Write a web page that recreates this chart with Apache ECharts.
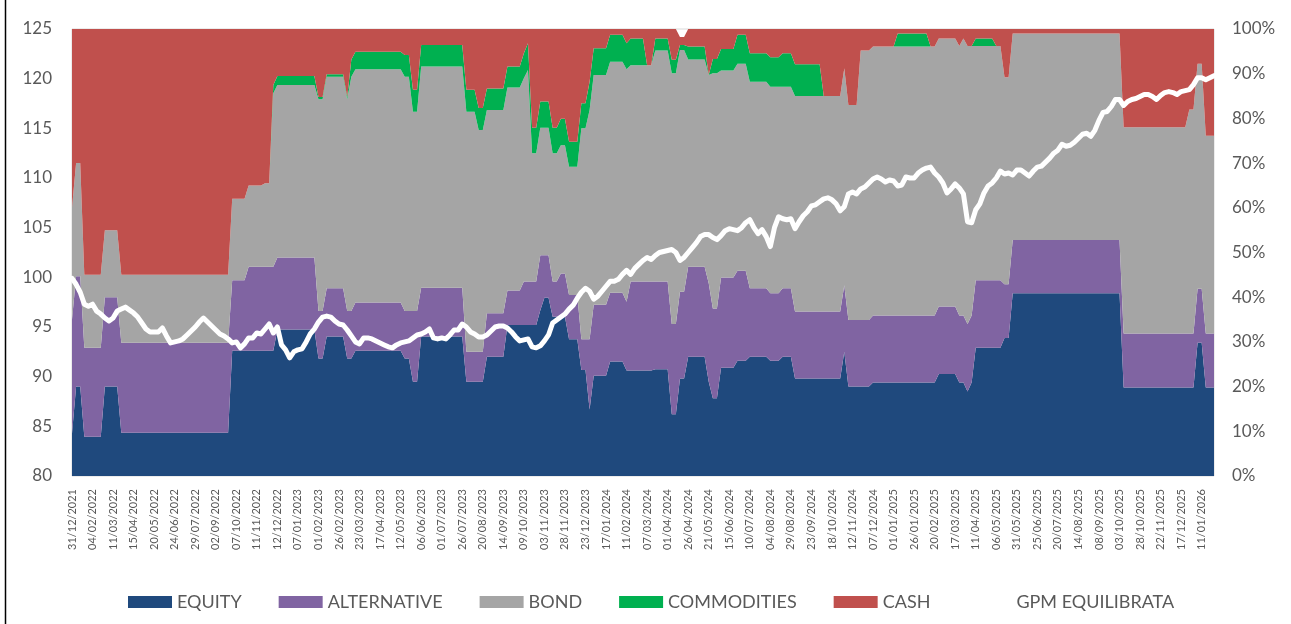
<!DOCTYPE html>
<html>
<head>
<meta charset="utf-8">
<script src="https://cdn.jsdelivr.net/npm/echarts@6/dist/echarts.min.js"></script>
<style>
  html, body { margin: 0; padding: 0; background: #fff; }
  #chart { width: 1291px; height: 624px; }
</style>
</head>
<body>
<div id="chart"></div>
<script>
// date labels shown on the x axis (one every 5 points)
const tickLabels = [
  '31/12/2021', '04/02/2022', '11/03/2022', '15/04/2022', '20/05/2022', '24/06/2022',
  '29/07/2022', '02/09/2022', '07/10/2022', '11/11/2022', '12/12/2022', '07/01/2023',
  '01/02/2023', '26/02/2023', '23/03/2023', '17/04/2023', '12/05/2023', '06/06/2023',
  '01/07/2023', '26/07/2023', '20/08/2023', '14/09/2023', '09/10/2023', '03/11/2023',
  '28/11/2023', '23/12/2023', '17/01/2024', '11/02/2024', '07/03/2024', '01/04/2024',
  '26/04/2024', '21/05/2024', '15/06/2024', '10/07/2024', '04/08/2024', '29/08/2024',
  '23/09/2024', '18/10/2024', '12/11/2024', '07/12/2024', '01/01/2025', '26/01/2025',
  '20/02/2025', '17/03/2025', '11/04/2025', '06/05/2025', '31/05/2025', '25/06/2025',
  '20/07/2025', '14/08/2025', '08/09/2025', '03/10/2025', '28/10/2025', '22/11/2025',
  '17/12/2025', '11/01/2026'
]

// GPM EQUILIBRATA (left axis), one value per point
const gpm = [
  99.9, 99.3, 98.5, 97.3, 97.1, 97.3, 96.6, 96.3, 95.9, 95.6,
  95.9, 96.6, 96.8, 97.0, 96.7, 96.4, 96.0, 95.4, 94.8, 94.5,
  94.5, 94.5, 94.9, 94.1, 93.4, 93.5, 93.6, 93.8, 94.2, 94.6,
  95.0, 95.5, 95.9, 95.5, 95.1, 94.7, 94.3, 94.1, 93.8, 93.4,
  93.5, 92.9, 93.3, 93.9, 93.9, 94.4, 94.3, 94.8, 95.3, 94.4,
  95.0, 93.2, 92.7, 91.9, 92.5, 92.7, 92.8, 93.5, 94.3, 94.8,
  95.5, 96.0, 96.1, 96.0, 95.6, 95.3, 95.2, 94.7, 94.1, 93.5,
  93.3, 93.9, 93.9, 93.8, 93.6, 93.4, 93.2, 93.0, 92.9, 93.2,
  93.4, 93.5, 93.6, 93.9, 94.2, 94.3, 94.5, 94.8, 93.9, 93.8,
  93.9, 93.8, 94.2, 94.7, 94.7, 95.3, 95.0, 94.5, 94.3, 94.0,
  94.0, 94.2, 94.6, 95.0, 95.1, 95.1, 94.9, 94.5, 94.0, 93.6,
  93.7, 93.8, 93.0, 92.9, 93.1, 93.6, 94.2, 95.4, 95.7, 96.0,
  96.3, 96.8, 97.2, 97.9, 98.5, 98.9, 98.6, 97.8, 98.1, 98.6,
  99.1, 99.6, 99.6, 99.8, 100.3, 100.7, 100.3, 100.9, 101.3, 101.7,
  102.0, 101.8, 102.2, 102.5, 102.6, 102.7, 102.8, 102.5, 101.7, 102.0,
  102.5, 103.0, 103.5, 104.1, 104.3, 104.3, 104.0, 103.8, 104.2, 104.7,
  104.9, 104.8, 104.7, 105.0, 105.5, 105.8, 105.0, 104.4, 104.8, 104.1,
  103.1, 105.0, 106.1, 105.9, 105.8, 105.9, 104.9, 105.6, 106.2, 106.6,
  107.2, 107.3, 107.6, 107.9, 108.0, 107.8, 107.4, 106.7, 107.1, 108.4,
  108.6, 108.4, 108.9, 109.1, 109.5, 109.9, 110.1, 109.9, 109.6, 109.8,
  109.7, 109.2, 109.3, 110.1, 110.0, 110.0, 110.5, 110.8, 111.0, 111.1,
  110.5, 110.1, 109.5, 108.5, 108.9, 109.4, 109.0, 108.4, 105.6, 105.5,
  106.8, 107.4, 108.5, 109.2, 109.5, 110.0, 110.7, 110.4, 110.5, 110.3,
  110.8, 110.8, 110.5, 110.2, 110.7, 111.1, 111.2, 111.6, 112.0, 112.5,
  112.8, 113.4, 113.2, 113.3, 113.6, 114.0, 114.4, 114.5, 114.2, 114.8,
  115.8, 116.6, 116.7, 117.2, 117.9, 117.9, 117.3, 117.7, 117.9, 118.0,
  118.2, 118.4, 118.4, 118.2, 117.9, 118.3, 118.6, 118.7, 118.6, 118.4,
  118.7, 118.8, 118.9, 119.4, 120.1, 120.1, 119.9, 120.1, 120.3
]

// allocations in % (right axis): [first point index, weight held from there on]
const equity = [
  [0, 9.5], [1, 20], [3, 8.8], [8, 20], [12, 9.7], [39, 28], [50, 32.8], [60, 26.3],
  [62, 31.2], [67, 26.3], [69, 28], [81, 26.3], [83, 21.1], [85, 31.2], [96, 21.1],
  [101, 26.7], [106, 33.8], [114, 37.1], [115, 39.9], [117, 35.6], [121, 30.6],
  [124, 23.7], [126, 14.9], [127, 22.4], [131, 25.6], [135, 23.6], [142, 23.9],
  [146, 13.8], [148, 21.8], [150, 26.7], [155, 21.1], [156, 17.4], [158, 24.2],
  [162, 25.8], [165, 26.7], [170, 25.8], [173, 26.7], [176, 21.8], [188, 27.8],
  [189, 20], [195, 20.9], [211, 22.8], [216, 20.9], [218, 18.9], [219, 20.9],
  [220, 28.7], [227, 30.9], [229, 40.9], [256, 19.8], [274, 29.8], [276, 19.8]
]
const alternative = [
  [0, 25.5], [1, 24.7], [3, 19.9], [8, 20], [12, 20.1], [39, 15.8], [43, 18.8],
  [50, 16.1], [60, 10.6], [62, 10.8], [67, 10.6], [69, 10.8], [81, 10.6], [83, 15.8],
  [85, 10.9], [96, 6.7], [101, 9.7], [106, 7.7], [110, 9.7], [114, 12.3], [115, 9.5],
  [117, 7.9], [119, 9.7], [121, 9.9], [124, 6.9], [126, 15.7], [127, 15.9], [131, 15.4],
  [136, 19.9], [142, 19.6], [146, 20.2], [148, 19.4], [150, 20.1], [155, 22], [156, 20.1],
  [158, 20.2], [162, 20.1], [165, 15.3], [170, 15.1], [173, 15.3], [176, 15],
  [188, 14.9], [195, 15], [211, 15.1], [216, 15], [218, 15.1], [219, 15], [220, 15.1],
  [227, 12], [229, 11.9], [256, 12.1]
]
const bond = [
  [0, 25], [1, 25.3], [3, 16.3], [8, 15], [12, 15.2], [39, 18.2], [47, 18.7], [49, 38.8],
  [50, 38.6], [60, 47.4], [62, 47.3], [67, 47.4], [68, 52.4], [69, 52.2], [81, 52.4],
  [83, 44.6], [85, 49.5], [96, 53.7], [99, 49.6], [101, 45.5], [106, 45.4], [110, 45.5],
  [111, 47.3], [112, 28.7], [114, 28.5], [117, 28.7], [124, 47.2], [126, 51.3],
  [127, 51.4], [131, 51.7], [135, 52], [136, 48.4], [142, 51.7], [146, 56.1], [148, 54.1],
  [150, 46.4], [155, 46.6], [156, 52.6], [158, 46.3], [165, 46.2], [173, 45.1],
  [176, 48.2], [188, 48.5], [189, 48.1], [192, 60.3], [195, 60.2], [211, 60], [216, 60.3],
  [217, 62], [218, 62.2], [219, 60.3], [220, 52.4], [227, 46.3], [229, 46.2], [256, 46.1],
  [272, 50.1], [274, 50.3], [276, 44.2]
]
const commodities = [
  [0, 0], [49, 1.9], [50, 2], [60, 0.5], [62, 0.6], [67, 0.5], [68, 3.9], [81, 4.9],
  [85, 4.8], [96, 4.9], [101, 4.8], [106, 4.7], [110, 5.6], [111, 6], [112, 5.7],
  [114, 5.9], [117, 5.7], [119, 5.9], [121, 5.6], [126, 6.3], [127, 6], [135, 5.8],
  [136, 6], [140, 0], [142, 2.7], [146, 3], [148, 1.1], [150, 2.9], [155, 0], [156, 3.2],
  [158, 4.8], [162, 6.5], [165, 6.4], [170, 6.6], [173, 7.5], [176, 7.1], [183, 0],
  [201, 2.9], [209, 0], [220, 1.7], [225, 0]
]
const cash = [
  [0, 40], [1, 30], [3, 55], [8, 45], [12, 55], [39, 38], [43, 35], [47, 34.5], [49, 12.5],
  [50, 10.5], [60, 15.2], [62, 10.1], [67, 15.2], [68, 6.8], [69, 5.1], [81, 5.8],
  [83, 13.6], [85, 3.6], [96, 13.6], [99, 17.7], [101, 13.3], [106, 8.4], [110, 5.4],
  [111, 3.2], [112, 22.1], [114, 16.2], [117, 22.1], [119, 20.1], [121, 25.2], [124, 16.6],
  [126, 11.8], [127, 4.3], [131, 1.3], [135, 3.2], [136, 2.1], [140, 8.1], [142, 2.1],
  [146, 6.9], [148, 1.8], [150, 3.9], [155, 10.3], [156, 6.7], [158, 4.5], [162, 1.3],
  [165, 5.4], [170, 6.3], [173, 5.4], [176, 7.9], [183, 15], [188, 8.8], [189, 17],
  [192, 4.8], [195, 3.9], [201, 1], [209, 3.9], [211, 2.1], [216, 3.8], [217, 2.1],
  [218, 3.8], [220, 2.1], [225, 3.8], [227, 10.8], [229, 1], [256, 22], [272, 18],
  [274, 7.8], [276, 23.9]
]

const N = gpm.length
const categories = gpm.map((v, i) => (i % 5 === 0 && tickLabels[i / 5]) || '')

// hold each weight until the next rebalance
const expand = (steps) => {
  const out = []
  let k = 0
  for (let i = 0; i < N; i++) {
    while (k + 1 < steps.length && steps[k + 1][0] <= i) k++
    out.push(steps[k][1])
  }
  return out
}

const font = 'Lato, sans-serif'

const areaSeries = (name, steps, color) => ({
  name,
  type: 'line',
  stack: 'alloc',
  yAxisIndex: 1,
  data: expand(steps),
  showSymbol: false,
  lineStyle: { width: 0 },
  areaStyle: { color, opacity: 1 },
  itemStyle: { color },
  emphasis: { disabled: true },
  silent: true,
})

const myChart = echarts.init(document.getElementById('chart'))

const options = {
  animation: false,
  grid: {
    left: 72,
    right: 77,
    top: 29,
    bottom: 148,
    show: true,
    borderColor: '#d9d9d9',
    borderWidth: 1,
  },
  legend: {
    left: 123,
    top: 588,
    itemWidth: 44,
    itemHeight: 12,
    itemGap: 37,
    textStyle: { color: '#595959', fontSize: 18, fontFamily: font },
    data: [
      { name: 'EQUITY', icon: 'rect' },
      { name: 'ALTERNATIVE', icon: 'rect' },
      { name: 'BOND', icon: 'rect' },
      { name: 'COMMODITIES', icon: 'rect' },
      { name: 'CASH', icon: 'rect' },
      { name: 'GPM EQUILIBRATA', icon: 'rect', itemStyle: { color: '#ffffff' } },
    ],
  },
  xAxis: {
    type: 'category',
    data: categories,
    boundaryGap: false,
    axisLine: { show: false },
    axisTick: { show: false },
    axisLabel: {
      interval: 0,
      rotate: 90,
      margin: 13,
      color: '#595959',
      fontSize: 11,
      fontFamily: font,
    },
  },
  yAxis: [
    {
      type: 'value',
      min: 80,
      max: 125,
      interval: 5,
      splitLine: { show: false },
      axisLine: { show: false },
      axisTick: { show: false },
      axisLabel: { color: '#595959', fontSize: 17, fontFamily: font, margin: 20 },
    },
    {
      type: 'value',
      min: 0,
      max: 100,
      interval: 10,
      position: 'right',
      splitLine: { show: false },
      axisLine: { show: false },
      axisTick: { show: false },
      axisLabel: { color: '#595959', fontSize: 17, fontFamily: font, margin: 18, formatter: '{value}%' },
    },
  ],
  series: [
    areaSeries('EQUITY', equity, '#1f497d'),
    areaSeries('ALTERNATIVE', alternative, '#8064a2'),
    areaSeries('BOND', bond, '#a5a5a5'),
    areaSeries('COMMODITIES', commodities, '#00b050'),
    areaSeries('CASH', cash, '#c0504d'),
    {
      name: 'GPM EQUILIBRATA',
      type: 'line',
      yAxisIndex: 0,
      data: gpm,
      showSymbol: false,
      z: 5,
      lineStyle: { color: '#ffffff', width: 5, join: 'round', cap: 'round' },
      itemStyle: { color: '#ffffff' },
      silent: true,
    },
  ],
  graphic: [
    {
      type: 'line',
      shape: { x1: 5.5, y1: 0, x2: 5.5, y2: 624 },
      style: { stroke: '#000000', lineWidth: 1.5 },
    },
  ],
}

myChart.setOption(options)
</script>
</body>
</html>
